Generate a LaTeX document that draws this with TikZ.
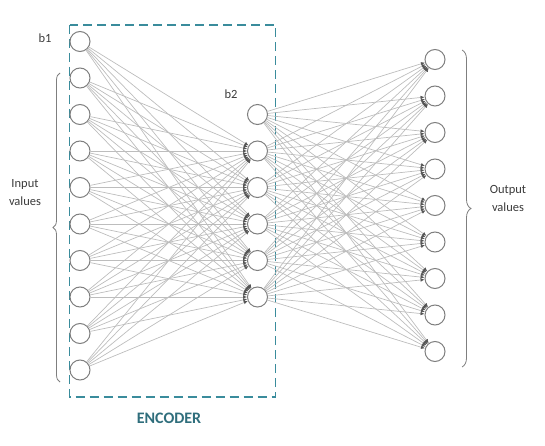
\documentclass[tikz,border=0pt]{standalone}
\usepackage{fontspec}
\setmainfont{Carlito}
\usepackage{xcolor}
\usetikzlibrary{arrows.meta,decorations.pathreplacing}
\definecolor{boxteal}{HTML}{3A8C9C}
\definecolor{encteal}{HTML}{2F6E7C}
\definecolor{linkgray}{HTML}{BDBDBD}
\definecolor{tipgray}{HTML}{555555}
\definecolor{ringgray}{HTML}{7F7F7F}
\definecolor{labelgray}{HTML}{3A3A3A}

\begin{document}
\begin{tikzpicture}[x=1pt, y=-1pt,
	neuron/.style={draw=ringgray, line width=1pt, circle, fill=white, minimum size=20pt, inner sep=0pt},
	link/.style={draw=linkgray, line width=0.7pt, -{Latex[length=4pt,width=3.6pt,color=tipgray]}},
	lbl/.style={text=labelgray, font=\fontsize{12.5}{18}\selectfont, align=center}]
	\useasboundingbox (0,0) rectangle (545,446);
	% encoder box
	\draw[boxteal, line width=1.4pt, dash pattern=on 9pt off 5pt] (69.5,25) rectangle (275.5,397);
	\node (enc) [text=encteal, font=\fontsize{16}{18}\selectfont\bfseries] at (169,418) {ENCODER};
	% input layer
	\node (i0) [neuron] at (80, 41.5) {};
	\node (i1) [neuron] at (80, 78) {};
	\node (i2) [neuron] at (80, 114.5) {};
	\node (i3) [neuron] at (80, 151) {};
	\node (i4) [neuron] at (80, 187.5) {};
	\node (i5) [neuron] at (80, 224) {};
	\node (i6) [neuron] at (80, 260.5) {};
	\node (i7) [neuron] at (80, 297) {};
	\node (i8) [neuron] at (80, 333.5) {};
	\node (i9) [neuron] at (80, 370) {};
	% hidden layer
	\node (h0) [neuron] at (257.5, 114.5) {};
	\node (h1) [neuron] at (257.5, 151) {};
	\node (h2) [neuron] at (257.5, 187.5) {};
	\node (h3) [neuron] at (257.5, 224) {};
	\node (h4) [neuron] at (257.5, 260.5) {};
	\node (h5) [neuron] at (257.5, 297) {};
	% output layer
	\node (o1) [neuron] at (435, 59.5) {};
	\node (o2) [neuron] at (435, 96) {};
	\node (o3) [neuron] at (435, 132.5) {};
	\node (o4) [neuron] at (435, 169) {};
	\node (o5) [neuron] at (435, 205.5) {};
	\node (o6) [neuron] at (435, 242) {};
	\node (o7) [neuron] at (435, 278.5) {};
	\node (o8) [neuron] at (435, 315) {};
	\node (o9) [neuron] at (435, 351.5) {};
	% connections
	\foreach \a in {0,...,9}
		\foreach \b in {1,...,5}
			\draw[link] (i\a) -- (h\b);
	\foreach \a in {0,...,5}
		\foreach \b in {1,...,9}
			\draw[link] (h\a) -- (o\b);
	% labels
	\node (b1) [lbl] at (45, 38) {b1};
	\node (b2) [lbl] at (231, 94) {b2};
	\coordinate (inbot) at (60, 382);
	\coordinate (intop) at (60, 73);
	\coordinate (outtop) at (462, 50);
	\coordinate (outbot) at (462, 367);
	\draw[ringgray, line width=0.8pt, decorate, decoration={brace, amplitude=7pt}] (inbot) -- (intop);
	\draw[ringgray, line width=0.8pt, decorate, decoration={brace, amplitude=9pt}] (outtop) -- (outbot);
	\node (inp) [lbl] at (25, 193) {Input\\values};
	\node (outp) [lbl] at (508, 198) {Output\\values};
\end{tikzpicture}
\end{document}
